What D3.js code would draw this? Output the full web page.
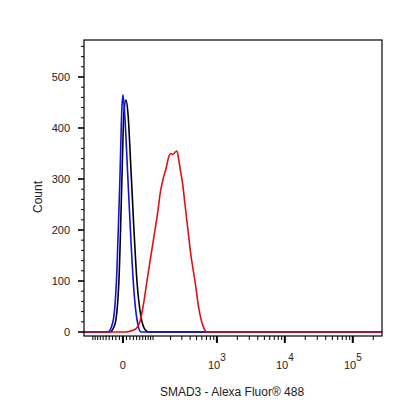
<!DOCTYPE html>
<html><head><meta charset="utf-8">
<script src="https://cdnjs.cloudflare.com/ajax/libs/d3/7.8.5/d3.min.js"></script>
<style>body{margin:0;background:#fff}text{font-family:Arial,"Liberation Sans",sans-serif;fill:#222}</style>
</head><body><svg id="chart" width="416" height="416"></svg>
<script>
// fluorescence (data units) and counts
var blueX = [-144, -44, -28.6, -17, -8.5, -2.8, 0, 5.6, 14.1, 22.8, 31.8, 40.9, 54, 269000];
var blueY = [0, 0, 20, 120, 300, 440, 465, 420, 300, 180, 80, 25, 0, 0];
var blackX = [-144, -37.8, -22.8, -11.3, -2.8, 2.8, 8.5, 14.1, 22.8, 31.8, 40.9, 54, 67.9, 83, 269000];
var blackY = [0, 0, 15, 100, 300, 430, 455, 430, 320, 200, 100, 30, 5, 0, 0];
var redX = [-144, 5.6, 34.7, 50.5, 64.2, 75.3, 91.3, 109, 124, 134, 151, 169, 189, 203, 218, 234, 252, 271, 291, 301, 335, 371, 412, 473, 542, 623, 712, 269000];
var redY = [0, 0, 5, 20, 60, 100, 150, 200, 240, 270, 300, 320, 345, 350, 348, 352, 355, 335, 310, 300, 250, 200, 150, 100, 45, 12, 0, 0];
var yTicks = [0, 100, 200, 300, 400, 500];
var xMajor = [0, 1000, 10000, 100000];
var xLabels = ["0", "10", "10", "10"];
var xSup = ["", "3", "4", "5"];

var svg = d3.select("#chart");
var pL = 84, pR = 382, pT = 40, pB = 336;
var C = 83;
var xs = d3.scaleLinear().domain([Math.asinh(-144 / C), Math.asinh(269000 / C)]).range([pL, pR]);
var x = function (v) { return xs(Math.asinh(v / C)); };
var y = d3.scaleLinear().domain([0, 500]).range([332, 77]);

svg.append("clipPath").attr("id", "clp").append("rect")
    .attr("x", pL).attr("y", pT).attr("width", pR - pL).attr("height", pB - pT);

var line = function (xsArr, ysArr) {
    return d3.line().curve(d3.curveMonotoneX)
        .x(function (d) { return x(d); })
        .y(function (d, i) { return y(ysArr[i]); })(xsArr);
};
var g = svg.append("g").attr("clip-path", "url(#clp)");
[[blackX, blackY, "#000"], [blueX, blueY, "#1010e0"], [redX, redY, "#e01010"]].forEach(function (s) {
    g.append("path").attr("d", line(s[0], s[1])).attr("fill", "none")
        .attr("stroke", s[2]).attr("stroke-width", 1.6);
});

svg.append("rect").attr("x", pL).attr("y", pT).attr("width", pR - pL).attr("height", pB - pT)
    .attr("fill", "none").attr("stroke", "#000").attr("stroke-width", 1.2);

// y ticks
for (var v = 0; v <= 560; v += 20) {
    var major = v % 100 === 0;
    svg.append("line").attr("x1", pL).attr("x2", pL - (major ? 6 : 3))
        .attr("y1", y(v)).attr("y2", y(v)).attr("stroke", "#000").attr("stroke-width", major ? 1.6 : 1);
}
yTicks.forEach(function (t) {
    svg.append("text").attr("x", 70).attr("y", y(t) + 4).attr("text-anchor", "end")
        .attr("font-size", 11).text(t);
});

// x ticks (biexponential)
var minor = [];
for (var k = 10; k <= 100; k += 10) { minor.push(k); minor.push(-k); }
[100, 1000, 10000, 100000].forEach(function (d) {
    for (var m = 2; m <= 9; m++) if (d * m < 269000) minor.push(d * m);
});
minor.forEach(function (t) {
    svg.append("line").attr("x1", x(t)).attr("x2", x(t)).attr("y1", pB).attr("y2", pB + 4)
        .attr("stroke", "#000").attr("stroke-width", 1);
});
xMajor.forEach(function (t, i) {
    svg.append("line").attr("x1", x(t)).attr("x2", x(t)).attr("y1", pB).attr("y2", pB + 7)
        .attr("stroke", "#000").attr("stroke-width", 2);
    var tx = svg.append("text").attr("x", x(t)).attr("y", 369).attr("text-anchor", "middle").attr("font-size", 11);
    tx.append("tspan").text(xLabels[i]);
    if (xSup[i]) tx.append("tspan").attr("dy", -8).attr("font-size", 10).text(xSup[i]);
});

svg.append("text").attr("x", 232).attr("y", 396).attr("text-anchor", "middle").attr("font-size", 12)
    .text("SMAD3 - Alexa Fluor® 488");
svg.append("text").attr("transform", "translate(42,197) rotate(-90)").attr("text-anchor", "middle")
    .attr("font-size", 12).text("Count");
</script></body></html>
